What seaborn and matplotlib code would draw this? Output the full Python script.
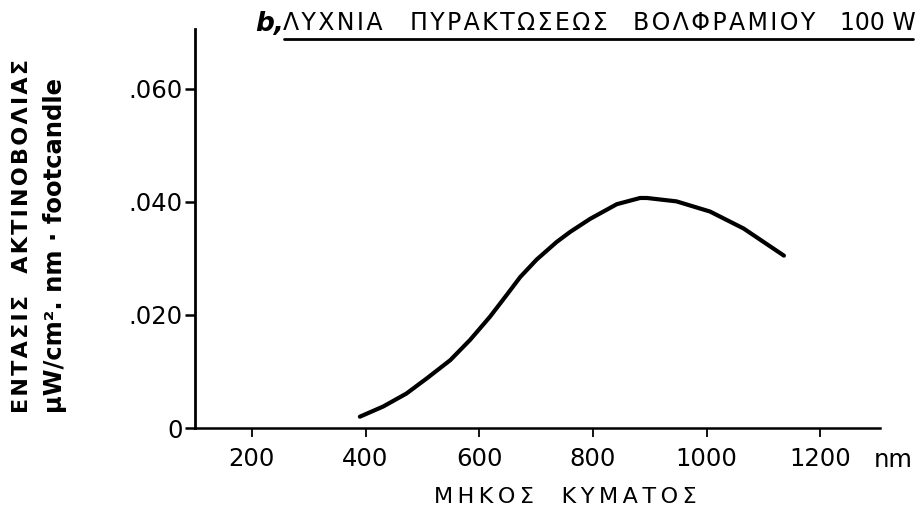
import matplotlib
matplotlib.use("Agg")
import matplotlib.pyplot as plt
import seaborn as sns
import pandas as pd
from matplotlib.lines import Line2D

# ---- data ----
wavelength_nm = [390, 431, 472, 508, 549, 584, 619, 648, 672, 701, 736, 760,
                 795, 842, 883, 895, 947, 1006, 1065, 1136]
intensity = [0.0020, 0.0038, 0.0061, 0.0088, 0.0120, 0.0156, 0.0197, 0.0235,
             0.0267, 0.0298, 0.0329, 0.0347, 0.0370, 0.0396, 0.0407, 0.0407,
             0.0401, 0.0383, 0.0353, 0.0305]
x_ticks = [200, 400, 600, 800, 1000, 1200]
y_ticks = [0, 0.020, 0.040, 0.060]
y_tick_labels = ["0", ".020", ".040", ".060"]
title_words = ["ΛΥΧΝΙΑ", "ΠΥΡΑΚΤΩΣΕΩΣ", "ΒΟΛΦΡΑΜΙΟΥ", "100 W"]
title_word_px = [283, 410, 633, 840]
title_word_spaced = [True, True, True, False]
title_mark = "b,"
x_label = "ΜΗΚΟΣ  ΚΥΜΑΤΟΣ"
y_label_1 = "ΕΝΤΑΣΙΣ  ΑΚΤΙΝΟΒΟΛΙΑΣ"
y_label_2 = "μW/cm². nm · footcandle"
x_unit = "nm"

HAIR = "\u200a"


def spaced(s, sep=HAIR):
    return sep.join(list(s))


df = pd.DataFrame({"wavelength": wavelength_nm, "intensity": intensity})

sns.set_theme(style="ticks")
plt.rcParams["font.family"] = ["DejaVu Sans"]
plt.rcParams["text.color"] = "black"
plt.rcParams["axes.labelcolor"] = "black"
plt.rcParams["xtick.color"] = "black"
plt.rcParams["ytick.color"] = "black"

W, H = 924, 514
fig = plt.figure(figsize=(W / 100, H / 100), dpi=100)
ax = fig.add_axes([195 / W, 1 - 428 / H, (880 - 195) / W, (428 - 29) / H])

sns.lineplot(data=df, x="wavelength", y="intensity", ax=ax, color="black",
             linewidth=3.0, solid_capstyle="round", solid_joinstyle="round")

ax.set_xlim(100, 1305)
ax.set_ylim(0, 0.0706)
ax.set_xticks(x_ticks)
ax.set_xticklabels([str(t) for t in x_ticks], fontsize=17.5)
ax.set_yticks(y_ticks)
ax.set_yticklabels(y_tick_labels, fontsize=17.5)
ax.set_xlabel("")
ax.set_ylabel("")

for s in ["top", "right"]:
    ax.spines[s].set_visible(False)
ax.spines["left"].set_linewidth(2.0)
ax.spines["bottom"].set_linewidth(1.8)
ax.spines["left"].set_color("black")
ax.spines["bottom"].set_color("black")
ax.tick_params(axis="x", direction="out", length=6.5, width=1.3, pad=7)
ax.tick_params(axis="y", direction="out", length=7, width=1.8, pad=2)

# unit label after x ticks
fig.text(893 / W, 1 - 460 / H, x_unit, fontsize=17.5, ha="center", va="center")

# x axis label
fig.text(565 / W, 1 - 497 / H, spaced(x_label, "\u2009"), fontsize=16,
         ha="center", va="center")

# y axis labels (two rotated lines)
fig.text(22 / W, 1 - 413 / H, spaced(y_label_1), fontsize=16, fontweight="bold",
         rotation=90, ha="center", va="bottom")
fig.text(55 / W, 1 - 413 / H, y_label_2, fontsize=17.5, fontweight="bold",
         rotation=90, ha="center", va="bottom")

# title with underline
fig.text(255 / W, 1 - 31 / H, title_mark, fontsize=19, fontweight="bold",
         fontstyle="italic", ha="left", va="baseline")
for word, px, sp in zip(title_words, title_word_px, title_word_spaced):
    fig.text(px / W, 1 - 30 / H, spaced(word) if sp else word, fontsize=17,
             ha="left", va="baseline")
fig.add_artist(Line2D([284 / W, 913 / W], [1 - 39 / H, 1 - 39 / H], color="black",
                      linewidth=2.0, transform=fig.transFigure))

fig.savefig("out.png", dpi=100)
